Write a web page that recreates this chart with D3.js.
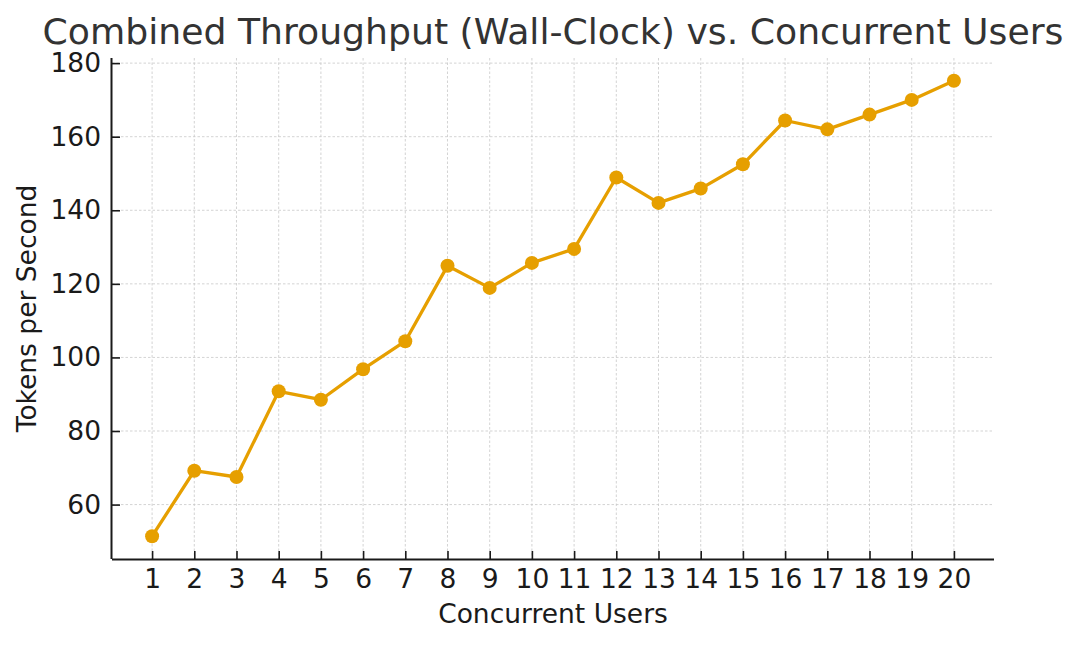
<!DOCTYPE html>
<html><head><meta charset="utf-8">
<script src="https://cdn.jsdelivr.net/npm/d3@7"></script>
<style>body{margin:0;background:#fff;} text{font-family:"DejaVu Sans",sans-serif;}</style>
</head><body>
<svg id="chart" width="1080" height="645"></svg>
<script>
const users = [1,2,3,4,5,6,7,8,9,10,11,12,13,14,15,16,17,18,19,20];
const tokensPerSecond = [51.4,69.2,67.5,90.8,88.5,96.8,104.4,124.9,118.9,125.7,129.5,148.9,142.0,145.9,152.5,164.4,162.0,166.0,170.0,175.2];
const yTicks = [60,80,100,120,140,160,180];
const titleText = "Combined Throughput (Wall-Clock) vs. Concurrent Users";
const xLabel = "Concurrent Users";
const yLabel = "Tokens per Second";

const svg = d3.select("#chart");
const L = 112, R = 994, T = 58, B = 559;
const x = d3.scaleLinear().domain([0.05, 20.95]).range([L, R]);
const ymin = d3.min(tokensPerSecond), ymax = d3.max(tokensPerSecond), pad = (ymax - ymin) * 0.05;
const y = d3.scaleLinear().domain([ymin - pad, ymax + pad]).range([B, T]);

// grid
const g = svg.append("g");
g.selectAll(".vg").data(users).enter().append("line")
  .attr("x1", d => x(d)).attr("x2", d => x(d)).attr("y1", T).attr("y2", B)
  .attr("stroke", "#c8c8c8").attr("stroke-width", 0.8).attr("stroke-dasharray", "2.5,2");
g.selectAll(".hg").data(yTicks).enter().append("line")
  .attr("x1", L).attr("x2", R).attr("y1", d => y(d)).attr("y2", d => y(d))
  .attr("stroke", "#c8c8c8").attr("stroke-width", 0.8).attr("stroke-dasharray", "2.5,2");

// axes (ticks pointing inward)
const xAxis = svg.append("g").attr("transform", `translate(0,${B})`)
  .call(d3.axisBottom(x).tickValues(users).tickSize(-8).tickPadding(10).tickFormat(d3.format("d")));
const yAxis = svg.append("g").attr("transform", `translate(${L},0)`)
  .call(d3.axisLeft(y).tickValues(yTicks).tickSize(-8).tickPadding(11).tickFormat(d3.format("d")));
[xAxis, yAxis].forEach(a => {
  a.select(".domain").attr("stroke", "#1a1a1a").attr("stroke-width", 2);
  a.selectAll(".tick line").attr("stroke", "#1a1a1a").attr("stroke-width", 1.6);
  a.selectAll(".tick text").attr("fill", "#1a1a1a").style("font-size", "26.5px").style("font-family", "DejaVu Sans");
});
xAxis.select(".domain").attr("d", `M${L},0.5H${R}`);
yAxis.select(".domain").attr("d", `M-0.5,${B}V${T}`);

// line
svg.append("path").datum(users.map((u, i) => [u, tokensPerSecond[i]]))
  .attr("fill", "none").attr("stroke", "#E69F00").attr("stroke-width", 3.3).attr("stroke-linejoin", "round")
  .attr("d", d3.line().x(d => x(d[0])).y(d => y(d[1])));
svg.selectAll(".pt").data(users).enter().append("circle")
  .attr("cx", d => x(d)).attr("cy", (d, i) => y(tokensPerSecond[i])).attr("r", 7).attr("fill", "#E69F00");

// labels
svg.append("text").attr("x", (L + R) / 2).attr("y", 44).attr("text-anchor", "middle")
  .attr("fill", "#333").style("font-size", "36.2px").text(titleText);
svg.append("text").attr("x", (L + R) / 2).attr("y", 623).attr("text-anchor", "middle")
  .attr("fill", "#1a1a1a").style("font-size", "26.5px").text(xLabel);
svg.append("text").attr("transform", `translate(36,${(T + B) / 2}) rotate(-90)`).attr("text-anchor", "middle")
  .attr("fill", "#1a1a1a").style("font-size", "26.5px").text(yLabel);
</script>
</body></html>
